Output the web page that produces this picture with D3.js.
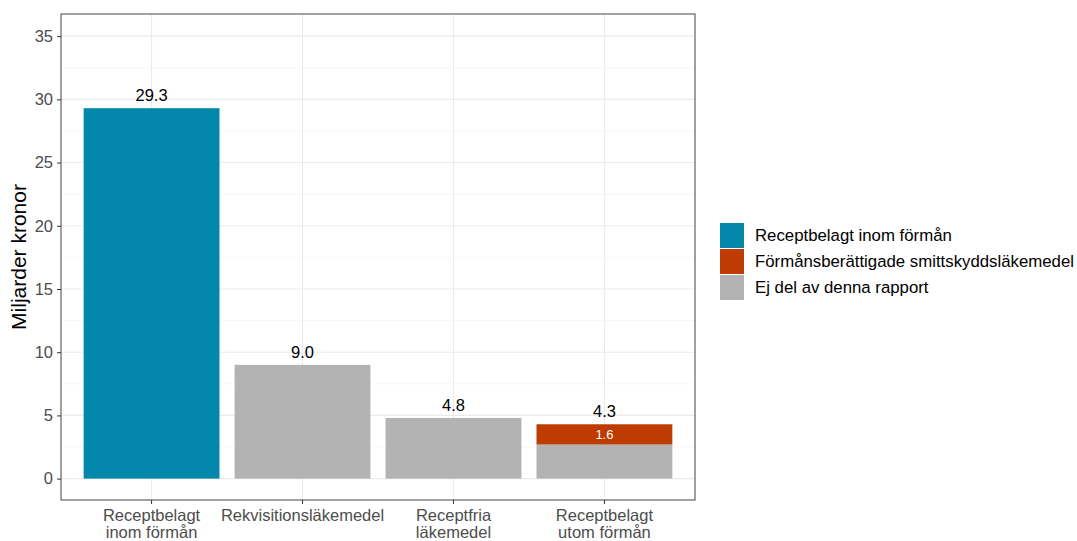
<!DOCTYPE html>
<html>
<head>
<meta charset="utf-8">
<script src="https://cdn.jsdelivr.net/npm/d3@7"></script>
<style>
  html, body { margin: 0; padding: 0; background: #fff; }
  svg { display: block; font-family: "Liberation Sans", Arial, sans-serif; }
</style>
</head>
<body>
<svg id="chart" width="1077" height="541"></svg>
<script>
// Categories (x axis), two-line tick labels
const categories = ["Receptbelagt inom förmån", "Rekvisitionsläkemedel", "Receptfria läkemedel", "Receptbelagt utom förmån"];
const categoryLabels = [["Receptbelagt", "inom förmån"], ["Rekvisitionsläkemedel"], ["Receptfria", "läkemedel"], ["Receptbelagt", "utom förmån"]];

// Stack groups (legend order) and their colours
const groups = ["Receptbelagt inom förmån", "Förmånsberättigade smittskyddsläkemedel", "Ej del av denna rapport"];
const groupColors = ["#0388AB", "#BE3C02", "#B3B3B3"];

// Values per group, billions SEK, one entry per category
const inomFormanValues = [29.3, 0, 0, 0];
const smittskyddValues = [0, 0, 0, 1.6];
const ejDelValues = [0, 9.0, 4.8, 2.7];

// Total labels above bars
const totalLabels = ["29.3", "9.0", "4.8", "4.3"];
const totals = [29.3, 9.0, 4.8, 4.3];

const yTicks = [0, 5, 10, 15, 20, 25, 30, 35];
const yMinor = [2.5, 7.5, 12.5, 17.5, 22.5, 27.5, 32.5];

const svg = d3.select("#chart");
const panel = { left: 61, top: 14, right: 695, bottom: 500 };

const y = d3.scaleLinear().domain([-1.69, 36.75]).range([panel.bottom, panel.top]);
const x = d3.scaleBand().domain(categories)
  .range([panel.left, panel.right])
  .paddingInner(0.1).paddingOuter(0.15);

// Panel background
svg.append("rect").attr("x", panel.left).attr("y", panel.top)
  .attr("width", panel.right - panel.left).attr("height", panel.bottom - panel.top)
  .attr("fill", "#fff");

// Grid lines
const grid = svg.append("g");
grid.selectAll("line.minor").data(yMinor).join("line")
  .attr("x1", panel.left).attr("x2", panel.right)
  .attr("y1", d => y(d)).attr("y2", d => y(d))
  .attr("stroke", "#F2F2F2").attr("stroke-width", 0.6);
grid.selectAll("line.major").data(yTicks).join("line")
  .attr("x1", panel.left).attr("x2", panel.right)
  .attr("y1", d => y(d)).attr("y2", d => y(d))
  .attr("stroke", "#EBEBEB").attr("stroke-width", 1.1);
grid.selectAll("line.vert").data(categories).join("line")
  .attr("x1", d => x(d) + x.bandwidth() / 2).attr("x2", d => x(d) + x.bandwidth() / 2)
  .attr("y1", panel.top).attr("y2", panel.bottom)
  .attr("stroke", "#EBEBEB").attr("stroke-width", 1.1);

// Stacked bars
const rows = categories.map((c, i) => ({
  cat: c,
  [groups[0]]: inomFormanValues[i],
  [groups[1]]: smittskyddValues[i],
  [groups[2]]: ejDelValues[i]
}));
// stack order: grey at bottom, then red, then blue
const stackOrder = [groups[2], groups[1], groups[0]];
const series = d3.stack().keys(stackOrder)(rows);
const color = d3.scaleOrdinal().domain(groups).range(groupColors);

svg.append("g").selectAll("g").data(series).join("g")
  .attr("fill", s => color(s.key))
  .selectAll("rect").data(s => s.filter(d => d[1] - d[0] > 0)).join("rect")
  .attr("x", d => x(d.data.cat))
  .attr("width", x.bandwidth())
  .attr("y", d => y(d[1]))
  .attr("height", d => y(d[0]) - y(d[1]));

// Value label inside the red segment
const redSeries = series.find(s => s.key === groups[1]);
svg.append("g").selectAll("text").data(redSeries.filter(d => d[1] - d[0] > 0)).join("text")
  .attr("x", d => x(d.data.cat) + x.bandwidth() / 2)
  .attr("y", d => (y(d[0]) + y(d[1])) / 2 + 4.5)
  .attr("text-anchor", "middle").attr("fill", "#fff").attr("font-size", 13)
  .text(d => (d[1] - d[0]).toFixed(1));

// Total labels above bars
svg.append("g").selectAll("text").data(categories).join("text")
  .attr("x", d => x(d) + x.bandwidth() / 2)
  .attr("y", (d, i) => y(totals[i]) - 7)
  .attr("text-anchor", "middle").attr("fill", "#000").attr("font-size", 16.5)
  .text((d, i) => totalLabels[i]);

// Panel border
svg.append("rect").attr("x", panel.left).attr("y", panel.top)
  .attr("width", panel.right - panel.left).attr("height", panel.bottom - panel.top)
  .attr("fill", "none").attr("stroke", "#555").attr("stroke-width", 1.1);

// Y axis
const yAxis = svg.append("g").attr("transform", `translate(${panel.left},0)`)
  .call(d3.axisLeft(y).tickValues(yTicks).tickSize(4).tickPadding(4).tickFormat(d3.format("d")));
yAxis.select(".domain").remove();
yAxis.selectAll(".tick line").attr("stroke", "#333");
yAxis.selectAll(".tick text").attr("fill", "#4D4D4D").attr("font-size", 16.5)
  .attr("font-family", "'Liberation Sans', Arial, sans-serif");

// X axis
const xAxis = svg.append("g").attr("transform", `translate(0,${panel.bottom})`)
  .call(d3.axisBottom(x).tickSize(4).tickFormat(""));
xAxis.select(".domain").remove();
xAxis.selectAll(".tick line").attr("stroke", "#333");
xAxis.selectAll(".tick").each(function (d, i) {
  const t = d3.select(this).append("text")
    .attr("text-anchor", "middle").attr("fill", "#4D4D4D").attr("font-size", 16.5)
    .attr("font-family", "'Liberation Sans', Arial, sans-serif");
  categoryLabels[i].forEach((line, j) => {
    t.append("tspan").attr("x", 0).attr("y", 21 + j * 17).text(line);
  });
});

// Y axis title
svg.append("text")
  .attr("transform", `translate(26,${(panel.top + panel.bottom) / 2}) rotate(-90)`)
  .attr("text-anchor", "middle").attr("fill", "#000").attr("font-size", 21)
  .text("Miljarder kronor");

// Legend
const legend = svg.append("g").attr("transform", "translate(720,223)");
const items = legend.selectAll("g").data(groups).join("g")
  .attr("transform", (d, i) => `translate(0,${i * 26})`);
items.append("rect").attr("width", 24).attr("height", 25).attr("fill", d => color(d));
items.append("text").attr("x", 35).attr("y", 12.5).attr("dy", "0.35em")
  .attr("fill", "#000").attr("font-size", 16.8).text(d => d);
</script>
</body>
</html>
